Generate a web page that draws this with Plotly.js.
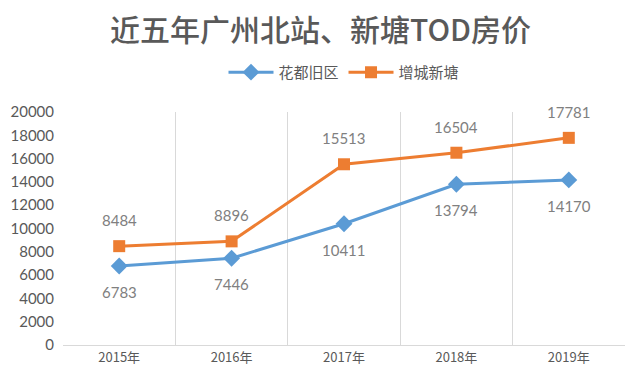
<!DOCTYPE html>
<html>
<head>
<meta charset="utf-8">
<script src="https://cdn.plot.ly/plotly-3.0.1.min.js"></script>
<style>html,body{margin:0;padding:0;background:#fff;}#chart{width:641px;height:383px;}</style>
</head>
<body>
<div id="chart"></div>
<script>
const years = ["2015年", "2016年", "2017年", "2018年", "2019年"];
const huaduName = "花都旧区";
const huaduValues = [6783, 7446, 10411, 13794, 14170];
const zengchengName = "增城新塘";
const zengchengValues = [8484, 8896, 15513, 16504, 17781];
const titleText = "近五年广州北站、新塘TOD房价";

const blue = "#5B9BD5", orange = "#ED7D31";
const labelFont = {family: "Lato, 'Open Sans', sans-serif", size: 15, color: "#808080"};

const traces = [
  {x: years, y: huaduValues, name: huaduName, type: "scatter", mode: "lines+markers",
   line: {color: blue, width: 3}, marker: {symbol: "diamond", size: 13, color: blue}},
  {x: years, y: zengchengValues, name: zengchengName, type: "scatter", mode: "lines+markers",
   line: {color: orange, width: 3}, marker: {symbol: "square", size: 12, color: orange}}
];

const annotations = [];
years.forEach((yr, i) => {
  annotations.push({x: yr, y: huaduValues[i], text: String(huaduValues[i]), showarrow: false,
    yshift: -26, font: labelFont});
  annotations.push({x: yr, y: zengchengValues[i], text: String(zengchengValues[i]), showarrow: false,
    yshift: 26, font: labelFont});
});

const layout = {
  width: 641, height: 383,
  margin: {l: 63, r: 16, t: 112, b: 38},
  paper_bgcolor: "#fff", plot_bgcolor: "#fff",
  title: {text: titleText, x: 0.5, xanchor: "center", y: 0.92, yanchor: "middle",
    font: {family: "'Noto Sans CJK SC', sans-serif", size: 30, color: "#595959", weight: 500}},
  showlegend: true,
  legend: {orientation: "h", x: 0.5, xanchor: "center", y: 1.17, yanchor: "middle",
    font: {family: "'Noto Sans CJK SC', sans-serif", size: 15, color: "#595959"},
    itemwidth: 45, tracegroupgap: 0},
  xaxis: {type: "category", tickson: "boundaries", showgrid: true, gridcolor: "#D9D9D9", gridwidth: 1,
    showline: true, linecolor: "#D9D9D9", linewidth: 1, ticks: "", zeroline: false,
    range: [-0.5, 4.5],
    tickfont: {family: "'Noto Sans CJK SC', sans-serif", size: 13, color: "#595959"}},
  yaxis: {range: [0, 20000], dtick: 2000, tickformat: "d", showgrid: false, zeroline: false, showline: false,
    ticks: "", ticklabelstandoff: 8,
    tickfont: {family: "Lato, 'Open Sans', sans-serif", size: 15, color: "#595959"}},
  annotations: annotations
};

Plotly.newPlot("chart", traces, layout, {displayModeBar: false, staticPlot: true});
</script>
</body>
</html>
